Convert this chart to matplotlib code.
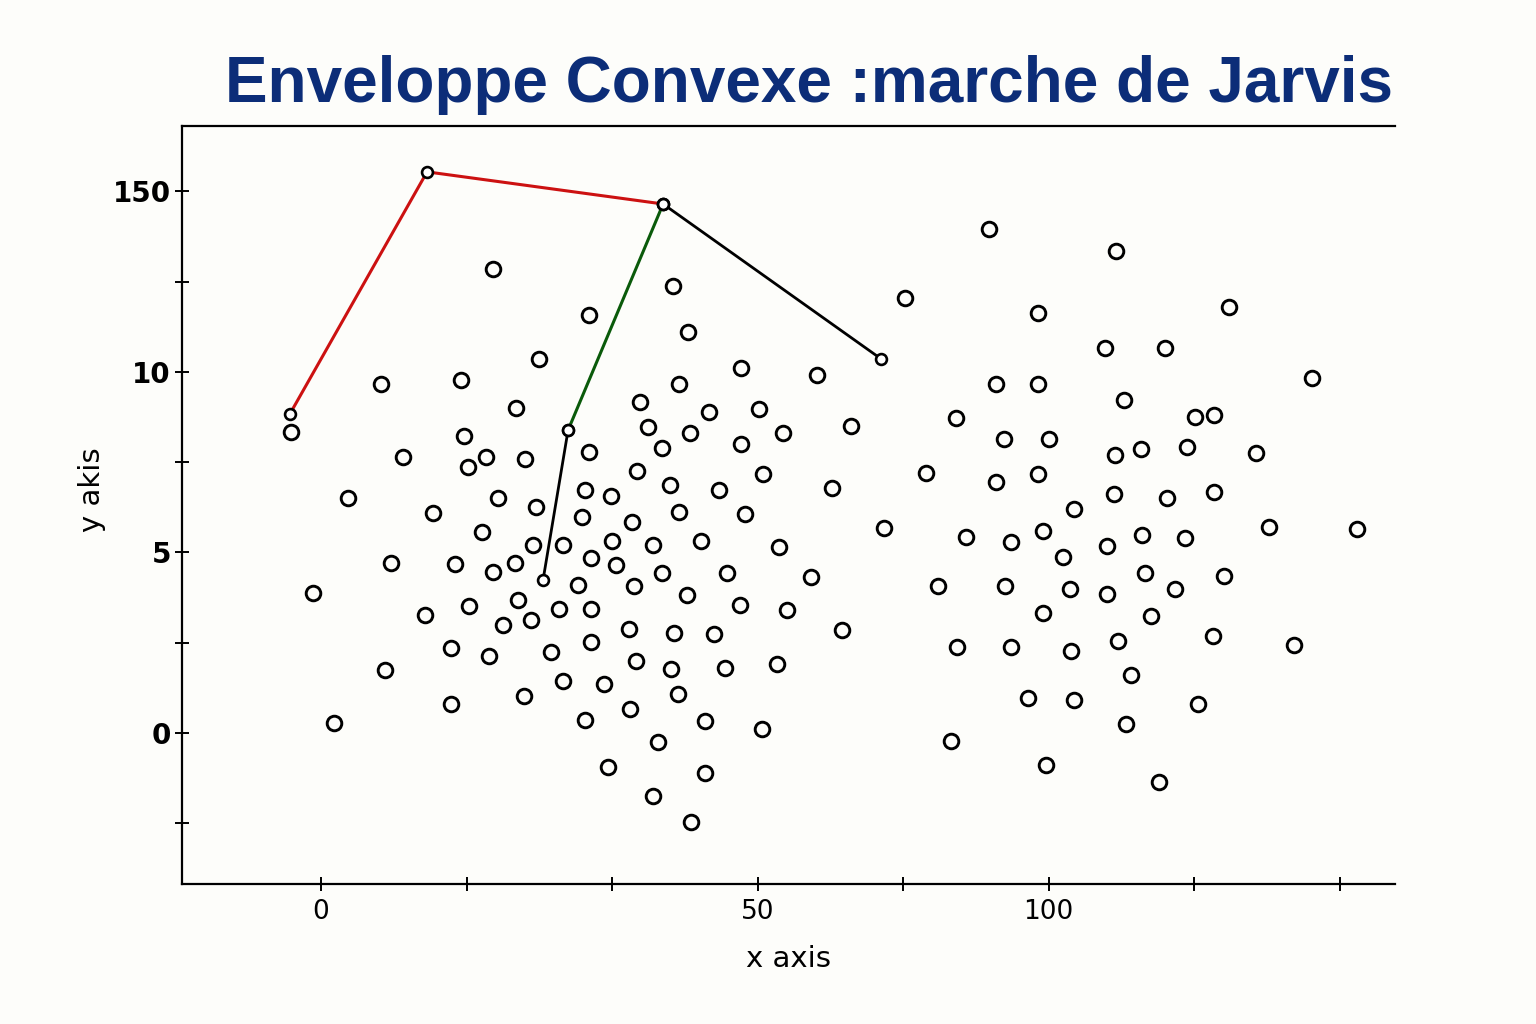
import matplotlib
matplotlib.use("Agg")
import matplotlib.pyplot as plt

# ---- data (chart units) ----
pts_x = [11.82, 14.98, 4.12, 9.62, -2.06, 13.40, 9.83, 5.64, 11.34, 10.10, 14.02, 1.86, 12.16, 14.78,
         7.70, 11.07, 14.57, 16.63, 4.81, 9.21, 11.82, 13.33, -0.55, 10.17, 13.54, 7.15, 16.36, 12.51,
         14.43, 8.93, 11.55, 15.81, 16.63, 4.40, 13.95, 8.93, 0.89,
         24.19, 18.42, 25.22, 28.87, 34.09, 24.60, 21.92, 26.67, 30.10, 22.47, 25.36, 31.75, 36.43,
         23.44, 28.87, 18.42, 21.72, 30.38, 23.99, 27.35, 35.12, 18.14, 19.93, 24.60, 29.14, 17.94,
         21.37, 20.00, 22.82, 26.12, 31.48, 18.56, 20.27, 23.44, 27.90, 33.68, 17.66, 21.51, 25.15,
         28.80, 32.03, 18.56, 21.17, 24.26, 27.01, 35.81, 18.56, 21.65, 24.05, 27.77, 31.34, 19.45,
         24.54, 21.24, 18.14, 26.39, 30.31, 23.16, 19.73, 26.39, 22.82, 25.43,
         40.14, 38.69, 45.91, 54.64, 49.28, 53.88, 58.01, 62.41, 68.11, 46.39, 49.28, 55.19, 43.64,
         46.94, 50.03, 54.57, 41.58, 46.39, 49.28, 54.50, 51.75, 44.33, 47.42, 49.62, 51.00, 54.02,
         42.41, 47.01, 51.48, 54.02, 49.62, 43.71, 47.42, 51.55, 54.78, 55.67, 48.59, 51.75, 55.33,
         43.30, 49.83, 60.07, 61.37, 56.36, 59.52, 64.26, 58.14, 61.37, 56.43, 59.38, 65.15, 71.20,
         56.63, 58.69, 62.06, 57.04, 61.31, 66.87, 60.27, 57.59]
pts_y = [12.85, 10.36, 9.67, 9.78, 8.34, 9.00, 8.23, 7.65, 7.65, 7.37, 7.59, 6.51, 6.51, 6.26,
         6.09, 5.57, 5.21, 5.21, 4.71, 4.68, 4.46, 4.71, 3.88, 3.52, 3.68, 3.27, 3.43, 2.99,
         3.13, 2.35, 2.13, 2.24, 1.44, 1.75, 1.02, 0.80, 0.28,
         12.38, 11.58, 11.11, 10.11, 9.92, 9.67, 9.17, 8.89, 8.98, 8.48, 8.31, 8.31, 8.50,
         7.89, 8.01, 7.78, 7.26, 7.17, 6.87, 6.73, 6.79, 6.73, 6.57, 6.12, 6.07, 5.98,
         5.84, 5.32, 5.21, 5.32, 5.15, 4.85, 4.65, 4.43, 4.43, 4.32, 4.10, 4.07, 3.82,
         3.55, 3.41, 3.43, 2.88, 2.77, 2.74, 2.85, 2.52, 1.99, 1.77, 1.80, 1.91, 1.36,
         1.08, 0.66, 0.36, 0.33, 0.11, -0.25, -0.94, -1.11, -1.75, -2.47,
         12.05, 5.68, 13.96, 13.35, 11.63, 10.66, 10.66, 11.80, 9.83, 9.67, 9.67, 9.22, 8.73,
         8.14, 8.14, 7.70, 7.20, 6.95, 7.17, 6.62, 6.20, 5.43, 5.29, 5.60, 4.88, 5.18,
         4.07, 4.07, 3.99, 3.85, 3.32, 2.38, 2.38, 2.27, 2.55, 1.61, 0.97, 0.91, 0.25,
         -0.22, -0.89, 8.75, 8.81, 7.87, 7.92, 7.76, 6.51, 6.68, 5.48, 5.40, 5.71, 5.65,
         4.43, 3.99, 4.35, 3.24, 2.69, 2.44, 0.80, -1.36]

# hull walk (Jarvis march steps)
red_x = [-2.13, 7.29, 23.51]
red_y = [8.84, 15.54, 14.65]
green_x = [23.51, 16.98]
green_y = [14.65, 8.39]
black1_x = [16.98, 15.26]
black1_y = [8.39, 4.24]
black2_x = [23.51, 38.49]
black2_y = [14.65, 10.36]

x_ticks = [0, 10, 20, 30, 40, 50, 60, 70]
x_labels = ["0", "", "", "50", "", "100", "", ""]
y_ticks = [-2.5, 0, 2.5, 5, 7.5, 10, 12.5, 15]
y_labels = ["", "0", "", "5", "", "10", "", "150"]

title = "Enveloppe Convexe :marche de Jarvis"

# ---- figure ----
bg = "#fdfdfa"
fig = plt.figure(figsize=(15.36, 10.24), dpi=100, facecolor=bg)
ax = fig.add_axes([182/1536, 1-884/1024, (1395-182)/1536, (884-126)/1024], facecolor=bg)
ax.set_xlim(-9.55, 73.8)
ax.set_ylim(-4.18, 16.81)

ax.plot(pts_x, pts_y, linestyle="none", marker="o", ms=10.5, mfc="none", mec="black", mew=2.1, zorder=3)

small = dict(marker="o", ms=7.8, mfc="white", mec="black", mew=1.9, zorder=4)
ax.plot(red_x, red_y, color="#cc1111", lw=2.2, **small)
ax.plot(green_x, green_y, color="#0a5a0a", lw=2.2, **small)
ax.plot(black1_x, black1_y, color="black", lw=2.0, **small)
ax.plot(black2_x, black2_y, color="black", lw=2.0, **small)

for s in ["left", "bottom", "top"]:
    ax.spines[s].set_linewidth(1.6)
ax.spines["right"].set_visible(False)

ax.set_xticks(x_ticks)
ax.set_xticklabels(x_labels)
ax.set_yticks(y_ticks)
ax.set_yticklabels(y_labels)
ax.tick_params(axis="x", direction="inout", length=10, width=1.4, labelsize=19, pad=6)
ax.tick_params(axis="y", direction="inout", length=10, width=1.4, labelsize=20, pad=3)
for lab in ax.get_yticklabels():
    lab.set_fontweight("semibold")

ax.set_xlabel("x axis", fontsize=21, labelpad=14)
ax.set_ylabel("y akis", fontsize=21)
ax.yaxis.set_label_coords(-0.063, 0.52)

fig.text(1393/1536, 1-102/1024, title, ha="right", va="baseline",
         fontsize=46, fontweight="bold", color="#0c2d78", family="Liberation Sans")

fig.savefig("out.png", dpi=100, facecolor=bg)
